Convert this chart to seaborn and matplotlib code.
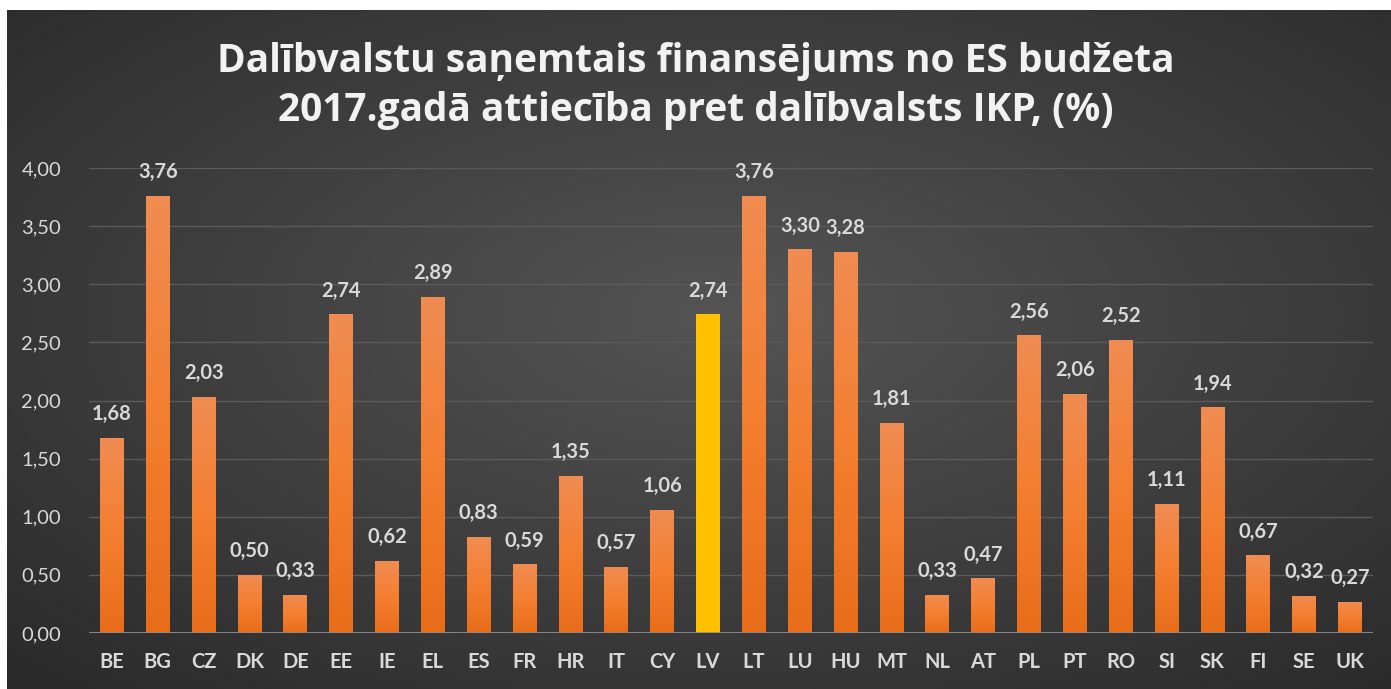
import numpy as np
import pandas as pd
import matplotlib.pyplot as plt
import matplotlib.colors as mcolors
import seaborn as sns

# values
countries = ['BE', 'BG', 'CZ', 'DK', 'DE', 'EE', 'IE', 'EL', 'ES', 'FR', 'HR', 'IT', 'CY', 'LV',
             'LT', 'LU', 'HU', 'MT', 'NL', 'AT', 'PL', 'PT', 'RO', 'SI', 'SK', 'FI', 'SE', 'UK']
shares = [1.68, 3.76, 2.03, 0.50, 0.33, 2.74, 0.62, 2.89, 0.83, 0.59, 1.35, 0.57, 1.06, 2.74,
          3.76, 3.30, 3.28, 1.81, 0.33, 0.47, 2.56, 2.06, 2.52, 1.11, 1.94, 0.67, 0.32, 0.27]
highlight = 'LV'
y_ticks = [0, 0.5, 1.0, 1.5, 2.0, 2.5, 3.0, 3.5, 4.0]
title = 'Dalībvalstu saņemtais finansējums no ES budžeta\n2017.gadā attiecība pret dalībvalsts IKP, (%)'

df = pd.DataFrame({'country': countries, 'share': shares})
df['group'] = np.where(df['country'] == highlight, 'hl', 'other')

sns.set_theme(style='dark')
plt.rcParams['font.family'] = ['Lato', 'DejaVu Sans']
txt = '#d9d9d9'

fig = plt.figure(figsize=(13.91, 6.89), dpi=100, facecolor='white')

# dark radial background
bg = fig.add_axes([7 / 1391, 0, 1 - 7 / 1391, 1 - 10 / 689])
yy, xx = np.mgrid[0:1:300j, 0:1:600j]
r = np.sqrt(((xx - 0.52) / 0.75) ** 2 + ((yy - 0.45) / 0.75) ** 2)
r = np.clip(r, 0, 1)
bg_cmap = mcolors.LinearSegmentedColormap.from_list('bg', ['#545454', '#3f3f3f', '#2a2a2a'])
bg.imshow(r, cmap=bg_cmap, aspect='auto', extent=[0, 1, 0, 1], vmin=0, vmax=1)
bg.set_axis_off()

ax = fig.add_axes([89 / 1391, 1 - 633 / 689, 1284 / 1391, 465 / 689])
ax.patch.set_alpha(0)

sns.barplot(data=df, x='country', y='share', hue='group', dodge=False, legend=False,
            palette={'other': '#ee7b2c', 'hl': '#ffc000'}, width=0.52, saturation=1,
            linewidth=0, ax=ax)

# vertical gradient on the orange bars
grad = np.linspace(0, 1, 256).reshape(-1, 1)
bar_cmap = mcolors.LinearSegmentedColormap.from_list('bar', ['#f08c52', '#f47f30', '#e86d1a'])
for p in ax.patches:
    idx = int(round(p.get_x() + p.get_width() / 2))
    if countries[idx] == highlight or p.get_height() == 0:
        continue
    x0, w, h = p.get_x(), p.get_width(), p.get_height()
    im = ax.imshow(grad, cmap=bar_cmap, aspect='auto', extent=[x0, x0 + w, 0, h],
                   origin='upper', zorder=p.get_zorder() + 0.1)
    im.set_clip_path(p)

for i, v in enumerate(shares):
    ax.annotate(f'{v:.2f}'.replace('.', ','), (i, v), xytext=(0, 17), textcoords='offset points',
                ha='center', va='center', color=txt, fontsize=14.5, fontweight='bold',
                annotation_clip=False)

ax.set_xlim(-0.5, len(countries) - 0.5)
ax.set_ylim(0, 4)
ax.set_yticks(y_ticks)
ax.set_yticklabels([f'{t:.2f}'.replace('.', ',') for t in y_ticks], color=txt, fontsize=14.5)
ax.tick_params(axis='x', colors=txt, labelsize=14.5, pad=14, length=0)
ax.tick_params(axis='y', pad=20, length=0)
for lab in ax.get_xticklabels():
    lab.set_fontweight('bold')
ax.set_xlabel('')
ax.set_ylabel('')
ax.yaxis.grid(True, color='#5a5a5a', linewidth=1)
ax.set_axisbelow(True)
for s in ax.spines.values():
    s.set_visible(False)
ax.axhline(0, color='#8c8c8c', linewidth=2, zorder=5)

fig.text(0.5, 1 - 86 / 689, title, ha='center', va='center', color='#f2f2f2',
         fontsize=28, fontweight='bold', linespacing=1.35, family=['Open Sans', 'DejaVu Sans'])

fig.savefig('out.png', dpi=100, facecolor='white')
